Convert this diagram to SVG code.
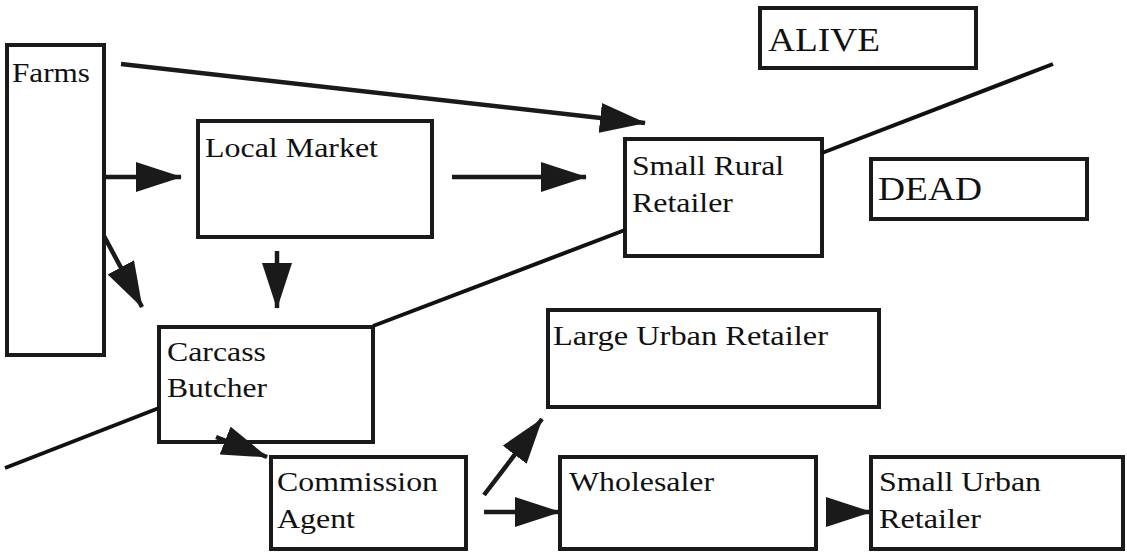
<svg xmlns="http://www.w3.org/2000/svg" width="1127" height="555" viewBox="0 0 1127 555">
  <style>
    .box { fill: none; stroke: #1a1a1a; stroke-width: 4; }
    .lbl { font-family: "Liberation Serif", "Times New Roman", serif; font-size: 28px; fill: #111; }
    .big { font-size: 33px; }
    .flow { stroke: #1a1a1a; stroke-width: 4.5; fill: none; marker-end: url(#head); }
    .divide { stroke: #111; stroke-width: 4; fill: none; }
  </style>
  <defs>
    <marker id="head" markerUnits="userSpaceOnUse" markerWidth="46" markerHeight="30" refX="45" refY="15" orient="auto" viewBox="0 0 46 30">
      <path d="M0,0 L46,15 L0,30 Z" fill="#1a1a1a"/>
    </marker>
  </defs>
  <rect width="1127" height="555" fill="#ffffff"/>

  <g id="farms">
    <rect class="box" x="7" y="45" width="97" height="310"/>
    <text class="lbl" x="12" y="82" textLength="78" lengthAdjust="spacingAndGlyphs">Farms</text>
  </g>
  <g id="local-market">
    <rect class="box" x="198" y="121" width="234" height="116"/>
    <text class="lbl" x="205" y="157" textLength="173" lengthAdjust="spacingAndGlyphs">Local Market</text>
  </g>
  <g id="small-rural-retailer">
    <rect class="box" x="625" y="139" width="197" height="117"/>
    <text class="lbl" x="632" y="175" textLength="152" lengthAdjust="spacingAndGlyphs">Small Rural</text>
    <text class="lbl" x="632" y="212" textLength="101" lengthAdjust="spacingAndGlyphs">Retailer</text>
  </g>
  <g id="alive">
    <rect class="box" x="760" y="8" width="216" height="60"/>
    <text class="lbl big" x="768" y="51" textLength="112" lengthAdjust="spacingAndGlyphs">ALIVE</text>
  </g>
  <g id="dead">
    <rect class="box" x="871" y="159" width="216" height="60"/>
    <text class="lbl big" x="878" y="200" textLength="104" lengthAdjust="spacingAndGlyphs">DEAD</text>
  </g>
  <g id="carcass-butcher">
    <rect class="box" x="159" y="327" width="214" height="115"/>
    <text class="lbl" x="167" y="361" textLength="99" lengthAdjust="spacingAndGlyphs">Carcass</text>
    <text class="lbl" x="167" y="397" textLength="100" lengthAdjust="spacingAndGlyphs">Butcher</text>
  </g>
  <g id="large-urban-retailer">
    <rect class="box" x="548" y="310" width="331" height="97"/>
    <text class="lbl" x="553" y="345" textLength="275" lengthAdjust="spacingAndGlyphs">Large Urban Retailer</text>
  </g>
  <g id="commission-agent">
    <rect class="box" x="271" y="457" width="195" height="92"/>
    <text class="lbl" x="277" y="491" textLength="161" lengthAdjust="spacingAndGlyphs">Commission</text>
    <text class="lbl" x="277" y="528" textLength="78" lengthAdjust="spacingAndGlyphs">Agent</text>
  </g>
  <g id="wholesaler">
    <rect class="box" x="560" y="457" width="256" height="92"/>
    <text class="lbl" x="569" y="491" textLength="145" lengthAdjust="spacingAndGlyphs">Wholesaler</text>
  </g>
  <g id="small-urban-retailer">
    <rect class="box" x="871" y="457" width="252" height="92"/>
    <text class="lbl" x="879" y="491" textLength="162" lengthAdjust="spacingAndGlyphs">Small Urban</text>
    <text class="lbl" x="879" y="528" textLength="102" lengthAdjust="spacingAndGlyphs">Retailer</text>
  </g>

  <g id="connectors">
    <!-- boundary between live and slaughtered trade -->
    <line class="divide" x1="5" y1="468" x2="159" y2="408"/>
    <line class="divide" x1="373" y1="326" x2="625" y2="230"/>
    <line class="divide" x1="822" y1="153" x2="1053" y2="64"/>
    <!-- flows -->
    <line class="flow" x1="121" y1="64" x2="645" y2="123"/>
    <line class="flow" x1="104" y1="177" x2="181" y2="177"/>
    <line class="flow" x1="104" y1="236" x2="142" y2="307"/>
    <line class="flow" x1="452" y1="177" x2="586" y2="177"/>
    <line class="flow" x1="277" y1="251" x2="277" y2="308"/>
    <line class="flow" x1="216" y1="437" x2="267" y2="457"/>
    <line class="flow" x1="484" y1="495" x2="542" y2="419"/>
    <line class="flow" x1="484" y1="512" x2="560" y2="512"/>
    <line class="flow" x1="828" y1="512" x2="871" y2="512"/>
  </g>
</svg>
